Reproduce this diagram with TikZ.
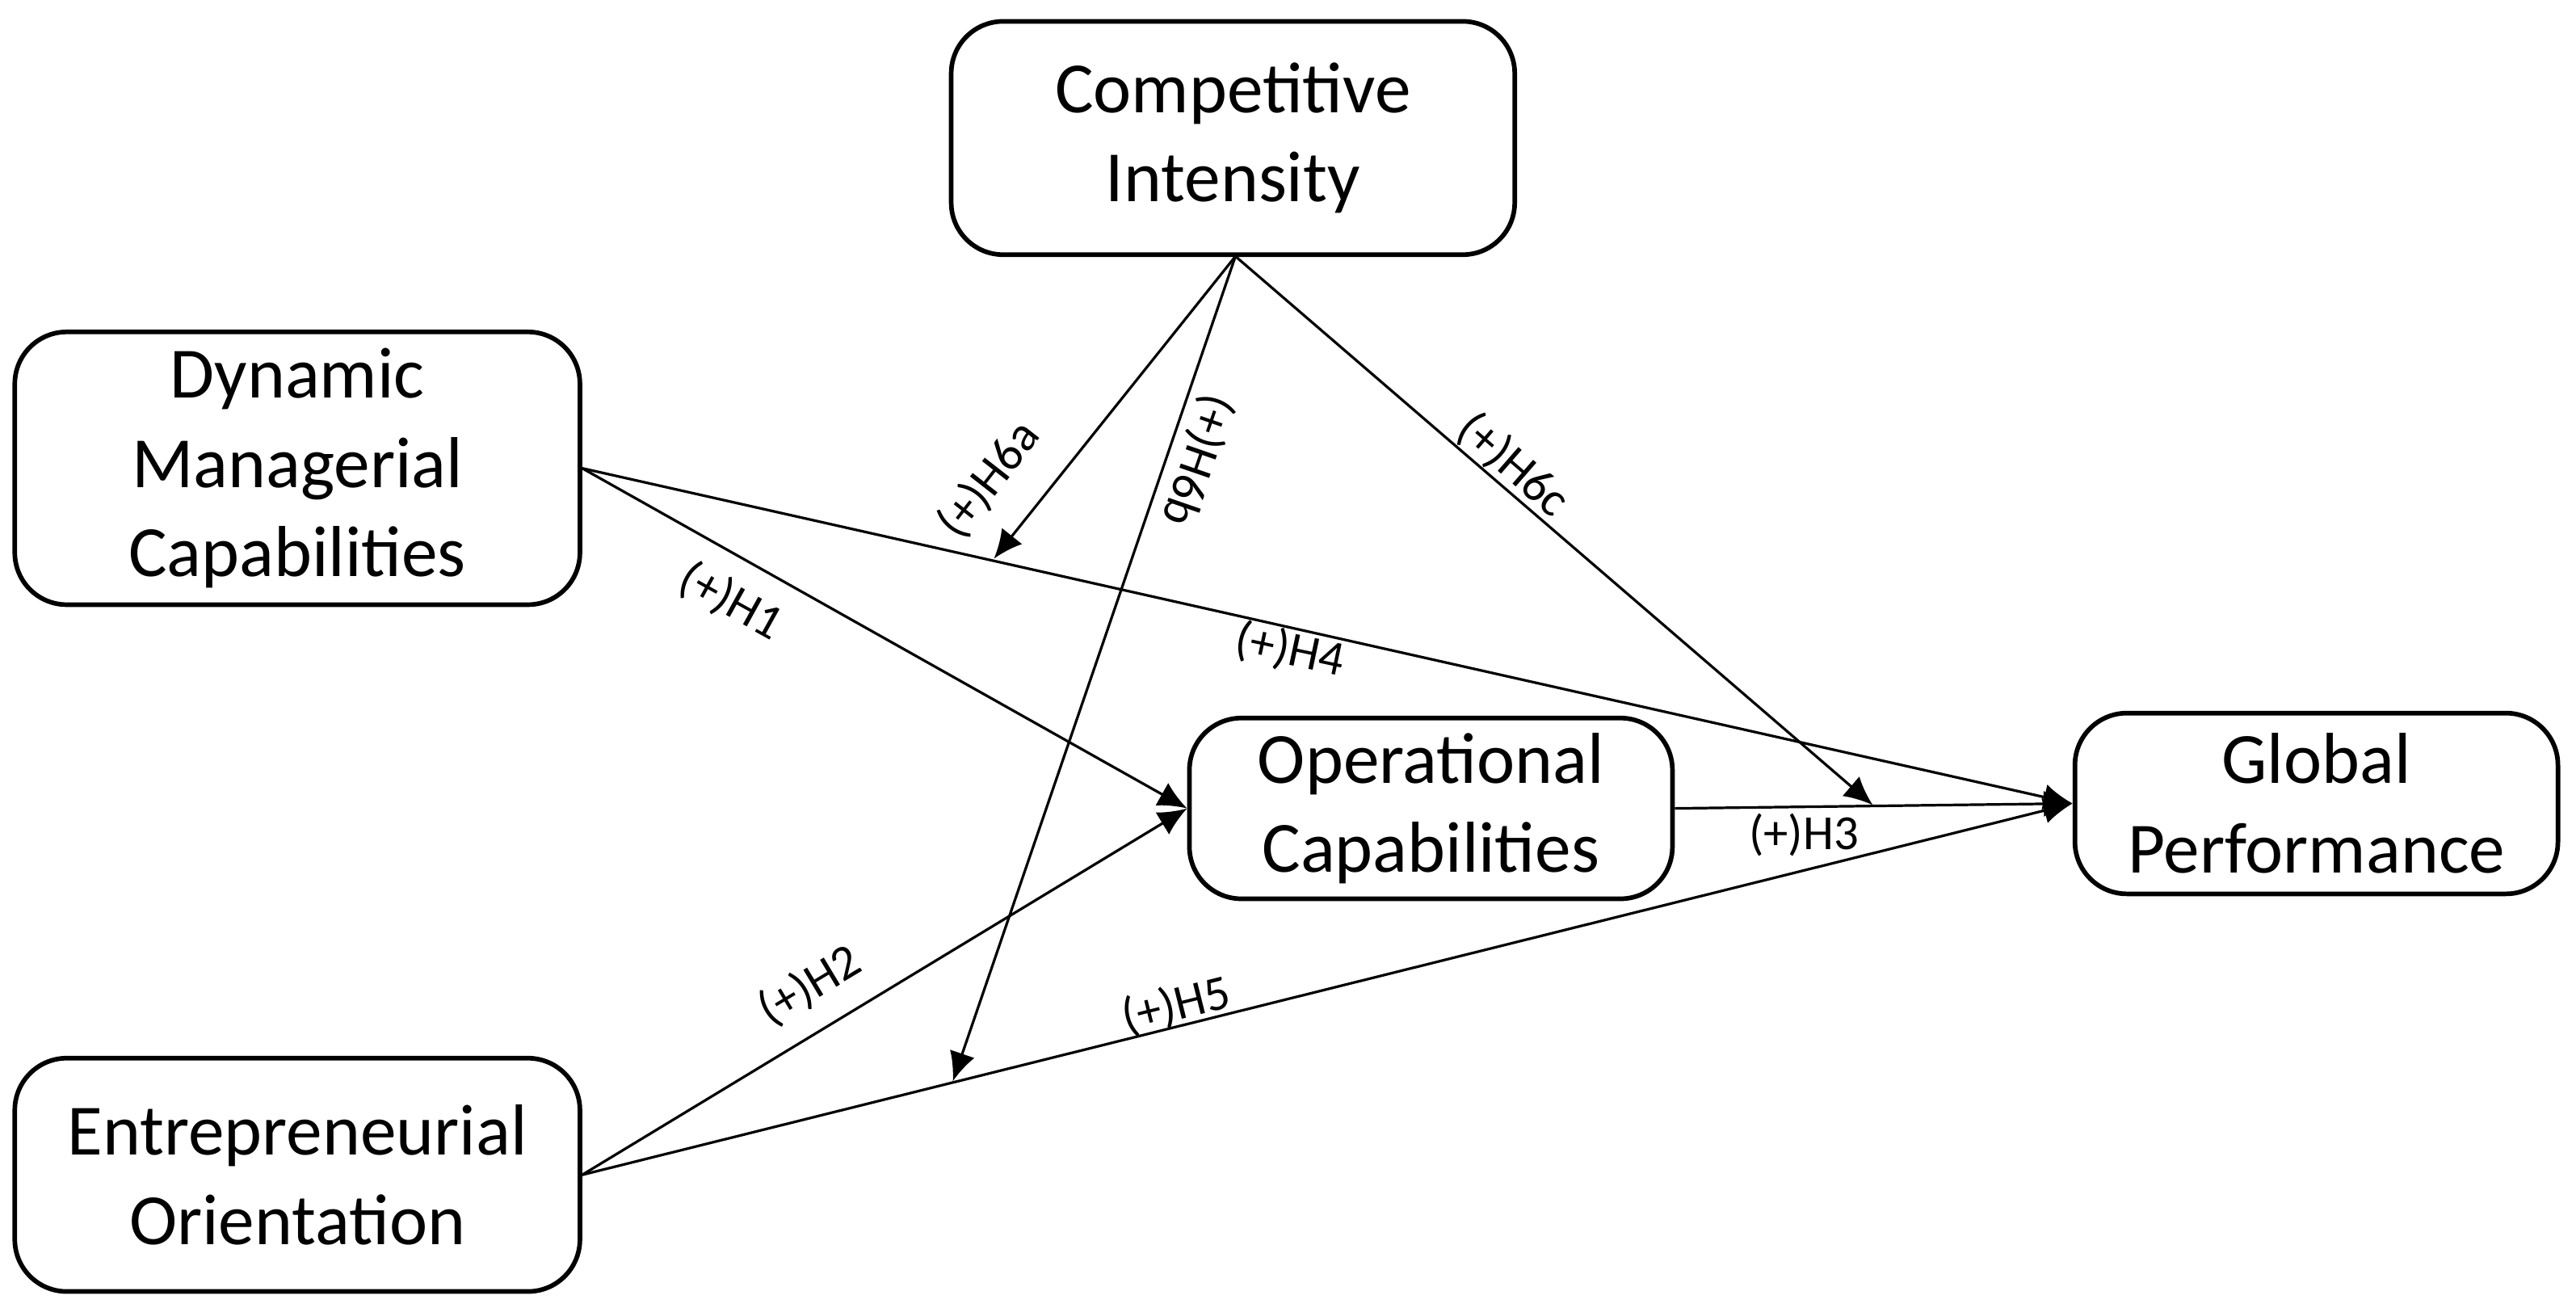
\documentclass[tikz,border=0pt]{standalone}
\usepackage{fontspec}
\setmainfont{Carlito}
\usetikzlibrary{arrows.meta}
\begin{document}
\begin{tikzpicture}[x=0.1mm,y=-0.1mm,
  box/.style={draw,line width=0.8pt,rounded corners=9pt,align=center,font=\fontsize{12.5}{15.5}\selectfont,inner sep=0pt},
  con/.style={line width=0.45pt,-{Latex[length=5pt,width=4.5pt]}},
  lab/.style={font=\fontsize{8.5}{10}\selectfont,inner sep=1pt}]
\useasboundingbox (0,0) rectangle (1568,796);
\node[box,minimum width=34.3mm,minimum height=14.2mm] (ci) at (750.5,84) {Competitive\\Intensity};
\node[box,minimum width=34.4mm,minimum height=16.6mm] (dmc) at (181,285) {Dynamic\\Managerial\\Capabilities};
\node[box,minimum width=29.4mm,minimum height=11mm] (oc) at (871,492) {Operational\\Capabilities};
\node[box,minimum width=29.4mm,minimum height=11mm] (gp) at (1410,489) {Global\\Performance};
\node[box,minimum width=34.4mm,minimum height=14.2mm] (eo) at (181,715) {Entrepreneurial\\Orientation};
\coordinate (a) at (605,340);
\coordinate (b) at (580,658);
\coordinate (c) at (1140,490);
\coordinate (cs) at (752,156);
\draw[con] (dmc.east) -- (oc.west);
\draw[con] (dmc.east) -- (gp.west);
\draw[con] (eo.east) -- (oc.west);
\draw[con] (eo.east) -- (gp.west);
\draw[con] (oc.east) -- (gp.west);
\draw[con] (cs) -- (a);
\draw[con] (cs) -- (b);
\draw[con] (cs) -- (c);
\node[lab,rotate=-29] at (445,366) {(+)H1};
\node[lab,rotate=-12] at (785,396) {(+)H4};
\node[lab,rotate=31] at (493,600) {(+)H2};
\node[lab,rotate=14] at (716,612) {(+)H5};
\node[lab] at (1098,508) {(+)H3};
\node[lab,rotate=52] at (602,292) {(+)H6a};
\node[lab,rotate=-109] at (729,280) {(+)H6b};
\node[lab,rotate=-41] at (921,283) {(+)H6c};
\end{tikzpicture}
\end{document}
